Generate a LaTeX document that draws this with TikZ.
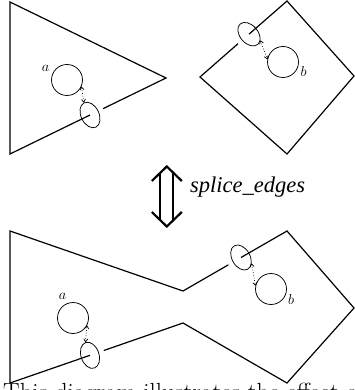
\documentclass[tikz,border=0pt]{standalone}
\usepackage{fontspec}
\newfontfamily\timesf{Liberation Serif}
\usetikzlibrary{shapes.geometric,arrows.meta}
\tikzset{
  edgeline/.style={line width=1.2pt, line join=miter},
  loopc/.style={circle, draw, line width=0.75pt, minimum size=31pt, inner sep=0pt},
  loope/.style={ellipse, draw, line width=0.75pt, minimum width=27pt, minimum height=18pt, inner sep=0pt},
  link/.style={dotted, line width=0.7pt, {To[length=3.5pt,width=4.5pt]}-{To[length=3.5pt,width=4.5pt]}},
  lbl/.style={inner sep=0pt, font=\fontsize{15}{15}\selectfont},
  bigarrow/.style={line width=2.2pt, line cap=butt, line join=miter}
}
\begin{document}
\begin{tikzpicture}[x=1pt,y=-1pt]
\useasboundingbox (0,0) rectangle (354,390);

% ---------- top left triangle ----------
\coordinate (t1) at (10,2);
\coordinate (t2) at (166,78);
\coordinate (t3) at (10,154);
\coordinate (g1) at (103,108.7);
\node[loope, rotate=116] (ea1) at (90,115) {};
\node[loopc] (ca1) at (67,80) {};
\node[lbl] (la1) at (45.5,68) {$a$};
\draw[edgeline] (ea1.center) -- (t3) -- (t1) -- (t2) -- (g1);
\draw[link] (ea1.east) -- (ca1.-25);

% ---------- top right square ----------
\coordinate (r1) at (287,1);
\coordinate (r2) at (354,76);
\coordinate (r3) at (287,154);
\coordinate (r4) at (200,77);
\coordinate (g2) at (238,43.7);
\node[loope, rotate=131] (eb1) at (249,34.2) {};
\node[loopc] (cb1) at (283,62) {};
\node[lbl] (lb1) at (303.5,72) {$b$};
\draw[edgeline] (eb1.center) -- (r1) -- (r2) -- (r3) -- (r4) -- (g2);
\draw[link] (eb1.200) -- (cb1.170);

% ---------- double arrow ----------
\coordinate (ut) at (166.8,166.5);
\coordinate (ul) at (151.8,181);
\coordinate (ur) at (181.8,181);
\coordinate (dt) at (166.8,226.5);
\coordinate (dl) at (151.8,212);
\coordinate (dr) at (181.8,212);
\coordinate (s1a) at (160.3,173);
\coordinate (s1b) at (160.3,220);
\coordinate (s2a) at (173.3,173);
\coordinate (s2b) at (173.3,220);
\draw[bigarrow] (ul) -- (ut) -- (ur);
\draw[bigarrow] (dl) -- (dt) -- (dr);
\draw[bigarrow] (s1a) -- (s1b);
\draw[bigarrow] (s2a) -- (s2b);
\node[anchor=base west, inner sep=0pt, font=\timesf\itshape\fontsize{22.5}{23}\selectfont] (op) at (190,192) {splice\_edges};

% ---------- bottom spliced figure ----------
\coordinate (A) at (10,231);
\coordinate (B) at (183,291);
\coordinate (C) at (287,231);
\coordinate (R) at (354,308);
\coordinate (S) at (287,383);
\coordinate (D) at (183,323);
\coordinate (E) at (10,383);
\coordinate (g3) at (103.8,350.5);
\coordinate (g4) at (228.4,264.8);
\node[loope, rotate=109] (ea2) at (90,355.3) {};
\node[loope, rotate=120] (eb2) at (241,257.5) {};
\node[loopc] (ca2) at (73,318) {};
\node[loopc] (cb2) at (271,289) {};
\node[lbl] (la2) at (62.5,296.5) {$a$};
\node[lbl] (lb2) at (291,299.5) {$b$};
\draw[edgeline] (ea2.center) -- (E) -- (A) -- (B) -- (g4);
\draw[edgeline] (eb2.center) -- (C) -- (R) -- (S) -- (D) -- (g3);
\draw[link] (ea2.east) -- (ca2.-28);
\draw[link] (eb2.210) -- (cb2.168);

% ---------- caption (cut by the page edge, as in the reference) ----------
\node[anchor=base west, inner sep=0pt, font=\fontsize{24.8}{28}\selectfont] (cap) at (3,400) {This diagram illustrates the effect of};
\end{tikzpicture}
\end{document}
